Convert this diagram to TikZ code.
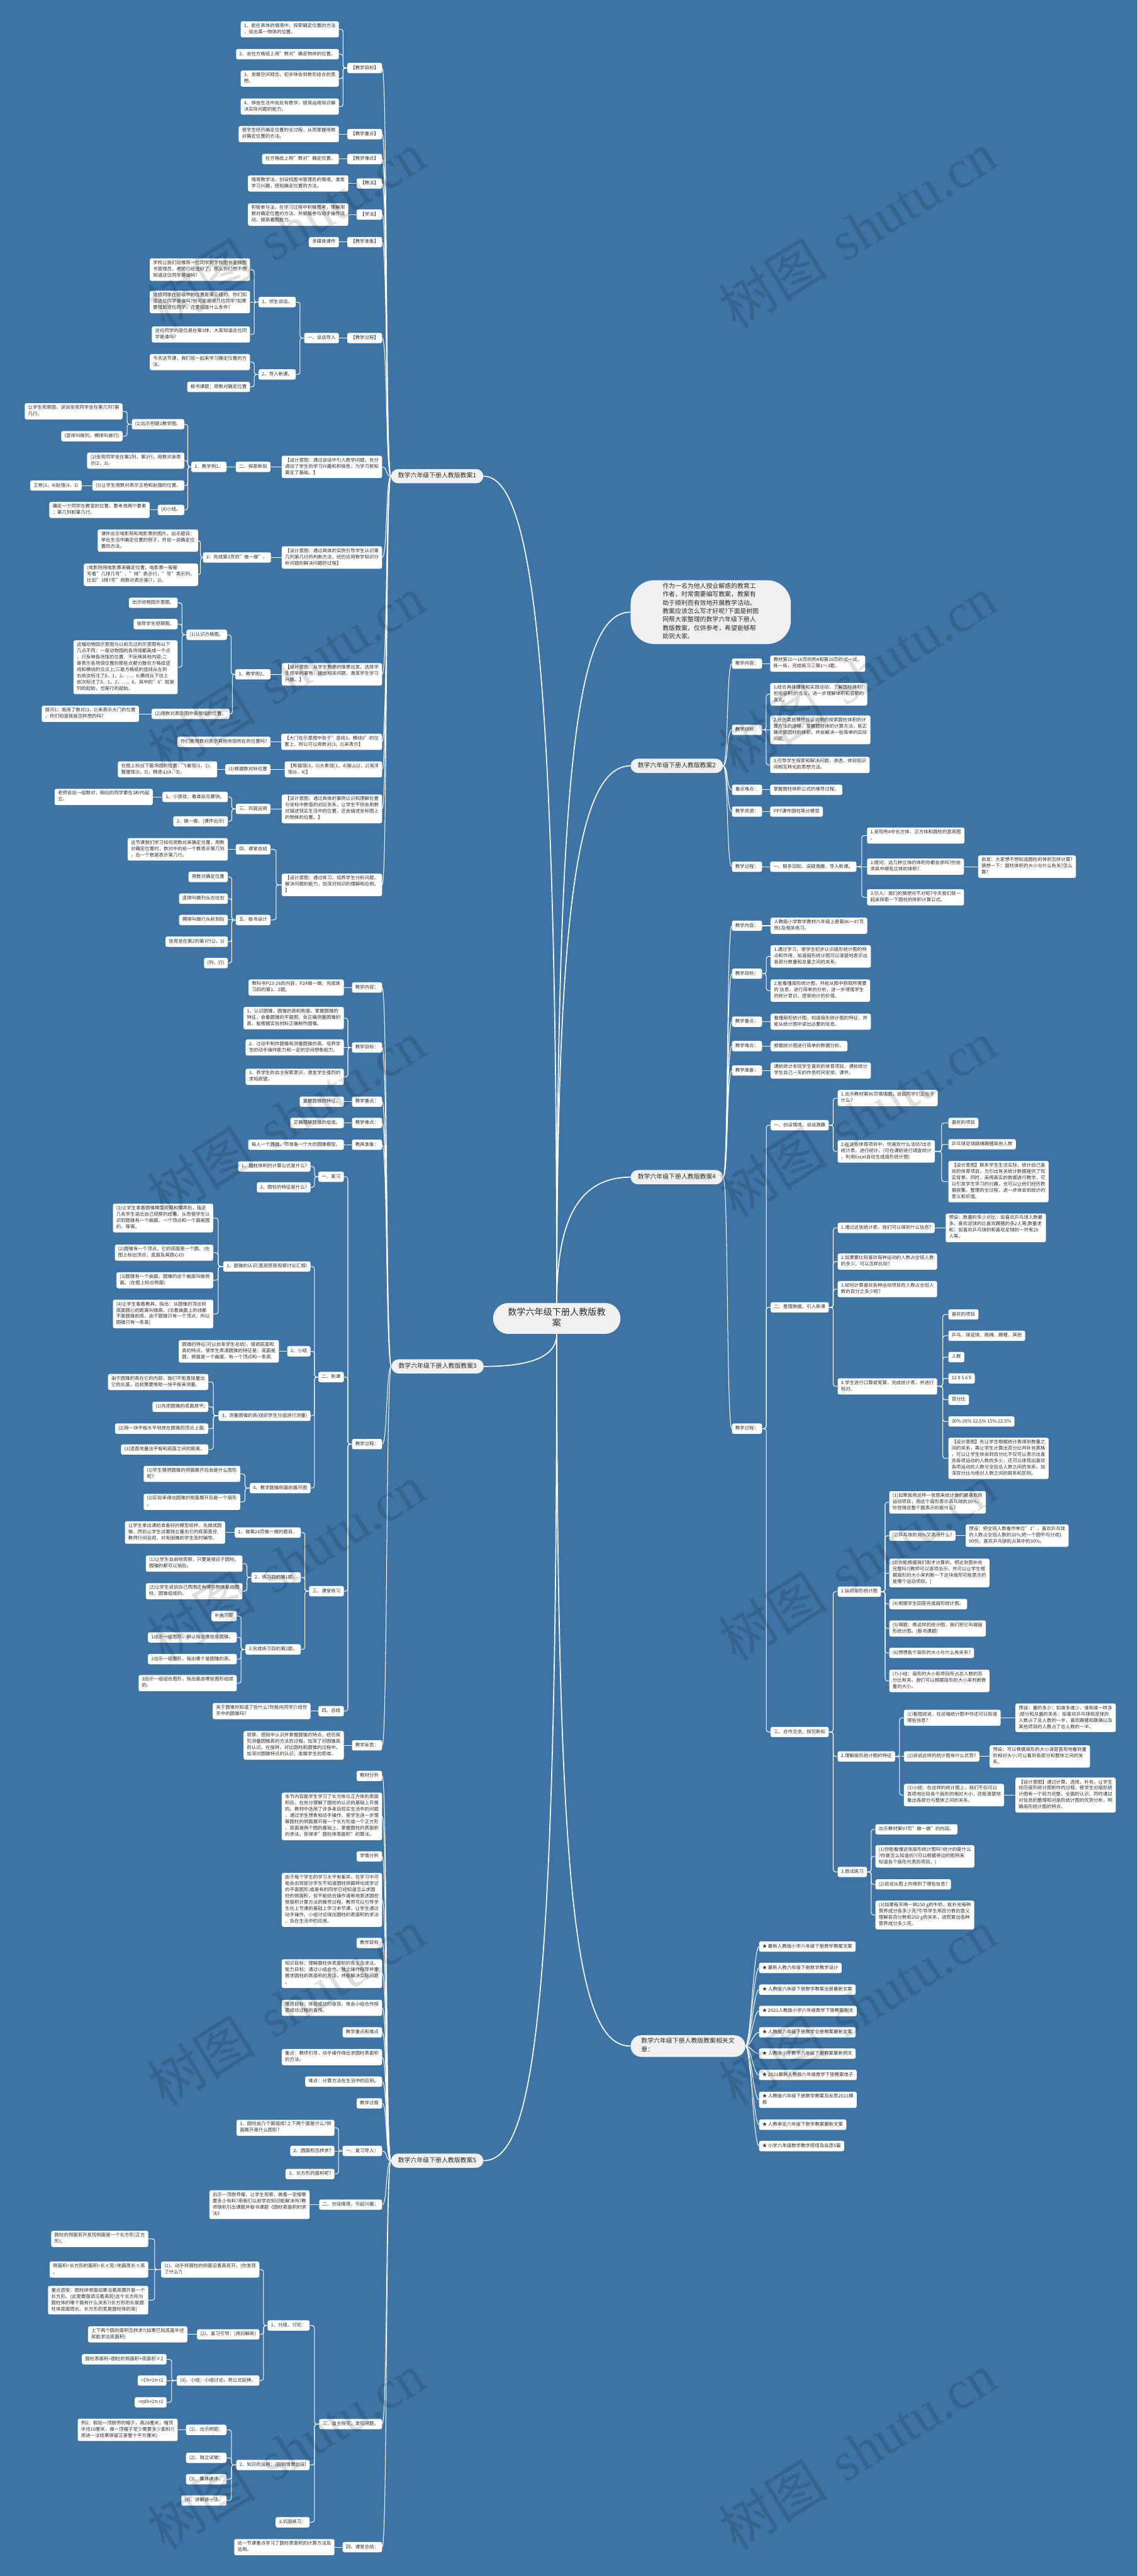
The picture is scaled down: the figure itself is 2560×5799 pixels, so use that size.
\documentclass[tikz,border=0pt]{standalone}
\usepackage{fontspec}
\setmainfont{Noto Sans CJK SC}
\newfontfamily\wmserif{Liberation Serif}
\usetikzlibrary{calc}
\definecolor{bgc}{RGB}{61,115,165}
\definecolor{txt}{RGB}{45,45,45}
\definecolor{mfill}{RGB}{240,240,240}
\newcommand\fsl{\fontsize{7.9pt}{10.6pt}\selectfont}
\newcommand\fsm{\fontsize{10.5pt}{14pt}\selectfont}
\newcommand\fsc{\fontsize{15pt}{18pt}\selectfont}
\newcommand\fsi{\fontsize{10.5pt}{14.25pt}\selectfont}
\newcommand\fsw{\fontsize{92pt}{92pt}\selectfont}
\newcommand\cvL[2]{\draw[lk] (#1.west) .. controls +(-12,0) and +(12,0) .. (#2.east);}
\newcommand\cvR[2]{\draw[lk] (#1.east) .. controls +(12,0) and +(-12,0) .. (#2.west);}
\newcommand\elL[2]{\draw[lk] (#1.west) -- ($(#1.west)!.5!(#1.west -| #2.east)$) |- (#2.east);}
\newcommand\elR[2]{\draw[lk] (#1.east) -- ($(#1.east)!.5!(#1.east -| #2.west)$) |- (#2.west);}
\newcommand\stL[2]{\draw[lk] (#1.west) -- (#1.west -| #2.east);}
\newcommand\stR[2]{\draw[lk] (#1.east) -- (#1.east -| #2.west);}
\pgfdeclarelayer{bg}
\pgfdeclarelayer{ln}
\pgfdeclarelayer{fg}
\pgfsetlayers{bg,ln,main,fg}
\tikzset{
  lf/.style={fill=white, rounded corners=3pt, text=txt, font=\fsl, align=left, inner xsep=5.6pt, inner ysep=3.4pt, execute at begin node=\strut, execute at end node=\strut},
  bxl/.style={lf, anchor=east},
  bxr/.style={lf, anchor=west},
  mn/.style={fill=mfill, rounded corners=12pt, text=txt, font=\fsm, inner xsep=12pt, inner ysep=5pt, execute at begin node=\strut, execute at end node=\strut},
  lk/.style={draw=white, line width=1.1pt, rounded corners=4pt},
  mlk/.style={draw=white, line width=1.8pt},
  wm/.style={rotate=32, text=black, opacity=0.13, font=\fsw},
}
\begin{document}
\begin{tikzpicture}[x=0.75pt,y=-0.75pt]
\useasboundingbox (0,0) rectangle (2560,5799);
\begin{pgfonlayer}{bg}
\fill[bgc] (0,0) rectangle (2560,5799);
\end{pgfonlayer}

% ---------- centre and main nodes ----------
\node[mn, font=\fsc, align=center, inner xsep=25pt, inner ysep=8pt, rounded corners=26pt] (c) at (1253,2968) {数学六年级下册人教版教\\案};
\node[mn, anchor=west, font=\fsi, align=left, inner xsep=54pt, inner ysep=4.5pt, rounded corners=40pt] (intro) at (1419,1378) {作为一名为他人授业解惑的教育工\\作者，时常需要编写教案，教案有\\助于顺利而有效地开展教学活动。\\教案应该怎么写才好呢?下面是树图\\网帮大家整理的数学六年级下册人\\教版教案，仅供参考，希望能够帮\\助到大家。};
\node[mn, anchor=east] (n1) at (1088,1072) {数学六年级下册人教版教案1};
\node[mn, anchor=west] (n2) at (1419,1724) {数学六年级下册人教版教案2};
\node[mn, anchor=east] (n3) at (1089,3076) {数学六年级下册人教版教案3};
\node[mn, anchor=west] (n4) at (1419,2650) {数学六年级下册人教版教案4};
\node[mn, anchor=east] (n5) at (1088,4864) {数学六年级下册人教版教案5};
\node[mn, anchor=west, font=\fsi, align=left, inner xsep=18pt, inner ysep=4.5pt, rounded corners=18pt] (rel) at (1419,4606) {数学六年级下册人教版教案相关文\\章：};

% ---------- branch 1 ----------
\node[bxl] (a1) at (860,153) {【教学目标】};
\node[bxl] (a2) at (860,302) {【教学重点】};
\node[bxl] (a3) at (860,358) {【教学难点】};
\node[bxl] (a4) at (860,413) {【教法】};
\node[bxl] (a5) at (860,483) {【学法】};
\node[bxl] (a6) at (860,545) {【教学准备】};
\node[bxl] (a7) at (860,761) {【教学过程】};
\node[bxl] (a8) at (860,1051) {【设计意图：通过谈话中引入数学问题，充分\\调动了学生的学习兴趣和积极性，为学习新知\\奠定了基础。】};
\node[bxl] (a9) at (860,1255) {【设计意图：通过具体的实例引导学生认识第\\几列第几行的判断方法，经历应用数学知识分\\析问题的解决问题的过程】};
\node[bxl] (a10) at (860,1518) {【设计意图：从学生熟悉的情景出发，选择学\\生感举的事物，提出相关问题，激发学生学习\\兴趣。】};
\node[bxl] (a11) at (860,1670) {【大门在示意图中处于"竖线3，横线0"的位\\置上，所以可以用数对(3，0)来表示】};
\node[bxl] (a12) at (860,1732) {【熊猫馆(3，5)大象馆(1，4)猴山(2，2)海洋\\馆(6，4)】};
\node[bxl] (a13) at (860,1821) {【设计意图：通过具体的事例认识和理解位置\\与坐标中数值的对应关系，让学生不但会用数\\对描述现实生活中的位置，还会描述坐标图上\\的物体的位置。】};
\node[bxl] (a14) at (860,1992) {【设计意图：通过练习，培养学生分析问题、\\解决问题的能力，加深对知识的理解和应用。\\】};

\node[bxl] (a1c1) at (763,66) {1、能在具体的情境中，探索确定位置的方法\\，说出某一物体的位置。};
\node[bxl] (a1c2) at (763,122) {2、会在方格纸上用"数对"确定物体的位置。};
\node[bxl] (a1c3) at (763,177) {3、发展空间观念，初步体会到数形结合的思\\想。};
\node[bxl] (a1c4) at (763,240) {4、体会生活中处处有数学，提高运用知识解\\决实际问题的能力。};
\node[bxl] (a2c) at (763,302) {使学生经历确定位置的全过程，从而掌握用数\\对确定位置的方法。};
\node[bxl] (a3c) at (763,358) {在方格纸上用"数对"确定位置。};
\node[bxl] (a4c) at (784,413) {情境教学法，创设找图书管理员的情境，激发\\学习兴趣，感知确定位置的方法。};
\node[bxl] (a5c) at (784,483) {积极参与法，在学习过程中积极思考，理解用\\数对确定位置的方法，并积极参与动手操作活\\动，提高看图能力。};
\node[bxl] (a6c) at (763,545) {多媒体课件};
\node[bxl] (a7c) at (763,761) {一、谈话导入};
\node[bxl] (a7c1) at (666,680) {1、师生谈话。};
\node[bxl] (a7c1a) at (563,607) {学校让我们班推荐一位同学到学校图书室做图\\书管理员，老师已经选好了，那么你们想不想\\知道这位同学是谁吗?};
\node[bxl] (a7c1b) at (563,680) {这位同学在班级中的位置是第三组的。你们知\\道这位同学是谁吗?他可能是哪几位同学?如果\\要找到这位同学，还要知道什么条件?};
\node[bxl] (a7c1c) at (563,753) {这位同学的座位是在第3排，大家知道这位同\\学是谁吗?};
\node[bxl] (a7c2) at (666,843) {2、导入新课。};
\node[bxl] (a7c2a) at (563,815) {今天这节课，我们就一起来学习确定位置的方\\法。};
\node[bxl] (a7c2b) at (563,871) {板书课题：用数对确定位置};

\node[bxl] (a8c) at (609,1051) {二、探索新知};
\node[bxl] (a8cc) at (510,1051) {1、教学例1。};
\node[bxl] (e1) at (415,955) {(1)出示例题1教学图。};
\node[bxl] (e1a) at (276,926) {让学生观察图，说说张亮同学坐在第几列?第\\几行。};
\node[bxl] (e1b) at (276,982) {(竖排叫做列，横排叫做行)};
\node[bxl] (e2) at (415,1037) {(2)张亮同学坐在第2列，第3行。用数对来表\\示(2，3)。};
\node[bxl] (e3) at (415,1093) {(3)让学生用数对表示王艳和赵强的位置。};
\node[bxl] (e3a) at (184,1093) {王艳(3，4)赵强(4，3)};
\node[bxl] (e4) at (415,1148) {(4)小结。};
\node[bxl] (e4a) at (337,1148) {确定一个同学在教室的位置，要考虑两个要素\\：第几列和第几行。};

\node[bxl] (a9c) at (610,1255) {2、完成第3页的"做一做"。};
\node[bxl] (a9c1) at (446,1217) {课件出示电影院和电影票的图片。出示题目：\\举出生活中确定位置的例子，并说一说确定位\\置的方法。};
\node[bxl] (a9c2) at (446,1294) {(电影院用电影票来确定位置，电影票一般都\\写着"几排几号"，"排"表示行，"号"表示列。\\比如"3排7号"用数对表示是(7，3)。};

\node[bxl] (a10c) at (609,1518) {3、教学例2。};
\node[bxl] (f1) at (511,1429) {(1)认识方格图。};
\node[bxl] (f1a) at (400,1357) {出示动物园示意图。};
\node[bxl] (f1b) at (400,1405) {指导学生观察图。};
\node[bxl] (f1c) at (400,1502) {这幅动物园示意图与以前见过的示意图有以下\\几点不同：一是动物园的各场馆都画成一个点\\，只反映各场馆的位置，不反映其他内容;二\\是表示各场馆位置的那些点都分散在方格纸竖\\线和横线的交点上;三是方格纸的竖线从左到\\右依次标注了0，1，2，…，6;横线从下往上\\依次标注了0，1，2，…，6，其中的"0"既是\\列的起始，也是行的起始。};
\node[bxl] (f2) at (517,1607) {(2)用数对表示图中各场馆的位置。};
\node[bxl] (f2a) at (313,1607) {提问1：我用了数对(3，0)来表示大门的位置\\，你们知道我是怎样想的吗?};

\node[bxl] (a11c) at (609,1670) {你们能用数对表示其他场馆所在的位置吗?};
\node[bxl] (a12c) at (609,1732) {(3)根据数对标位置};
\node[bxl] (a12cc) at (489,1732) {在图上标出下面场馆的位置：飞禽馆(1，1)、\\猩猩馆(0，3)、狮虎山(4，3)。};
\node[bxl] (a13c) at (609,1821) {三、巩固运用};
\node[bxl] (g1) at (513,1794) {1、小游戏：看谁反应最快。};
\node[bxl] (g1a) at (344,1794) {老师说出一组数对，相应的同学要在3秒内起\\立。};
\node[bxl] (g2) at (513,1849) {2、做一做。(课件出示)};
\node[bxl] (h1) at (609,1912) {四、课堂总结};
\node[bxl] (h1a) at (513,1912) {这节课我们学习如何用数对来确定位置，用数\\对确定位置时，数对中的前一个数表示第几列\\，后一个数是表示第几行。};
\node[bxl] (h2) at (609,2071) {五、板书设计};
\node[bxl] (h2a) at (513,1974) {用数对确定位置};
\node[bxl] (h2b) at (513,2023) {竖排叫做列从左往右};
\node[bxl] (h2c) at (513,2071) {横排叫做行从前到后};
\node[bxl] (h2d) at (513,2120) {张亮坐在第2列第3行(2，3)};
\node[bxl] (h2e) at (513,2168) {(列，行)};

% ---------- branch 3 ----------
\node[bxl] (b1) at (860,2223) {教学内容：};
\node[bxl] (b2) at (860,2358) {教学目标：};
\node[bxl] (b3) at (860,2480) {教学重点：};
\node[bxl] (b4) at (860,2528) {教学难点：};
\node[bxl] (b5) at (860,2577) {教具准备：};
\node[bxl] (b6) at (860,3251) {教学过程：};
\node[bxl] (b7) at (860,3929) {教学反思：};
\node[bxl] (b1c) at (774,2223) {教科书P23-26的内容，P24做一做，完成练\\习四的第1、2题。};
\node[bxl] (b2c1) at (774,2292) {1、认识圆锥，圆锥的高和侧面，掌握圆锥的\\特征，会看圆锥的平面图，会正确测量圆锥的\\高，能根据实验材料正确制作圆锥。};
\node[bxl] (b2c2) at (774,2358) {2、过动手制作圆锥和测量圆锥的高，培养学\\生的动手操作能力和一定的空间想象能力。};
\node[bxl] (b2c3) at (774,2424) {3、养学生的自主探索意识，激发学生强烈的\\求知欲望。};
\node[bxl] (b3c) at (774,2480) {掌握圆锥的特征。};
\node[bxl] (b4c) at (774,2528) {正确理解圆锥的组成。};
\node[bxl] (b5c) at (774,2577) {每人一个圆锥，师准备一个大的圆锥模型。};
\node[bxl] (k1) at (774,2649) {一、复习};
\node[bxl] (k1a) at (699,2626) {1、圆柱体积的计算公式是什么?};
\node[bxl] (k1b) at (699,2673) {2、圆柱的特征是什么?};
\node[bxl] (k2) at (774,3100) {二、新课};
\node[bxl] (m1) at (699,2851) {1、圆锥的认识(直观感受观察讨论汇报)};
\node[bxl] (m1a) at (480,2742) {(1)让学生拿着圆锥模型观察和摆弄后，指定\\几名学生说出自己观察的结果，从而使学生认\\识到圆锥有一个曲面，一个顶点和一个面是圆\\的，等等。};
\node[bxl] (m1b) at (480,2820) {(2)圆锥有一个顶点，它的底面是一个圆。(在\\图上标出顶点，底面及其圆心O)};
\node[bxl] (m1c) at (480,2882) {(3)圆锥有一个曲面，圆锥的这个曲面叫做侧\\面。(在图上标出侧面)};
\node[bxl] (m1d) at (480,2958) {(4)让学生看着教具，指出：从圆锥的顶点到\\底面圆心的距离叫做高。(沿着曲面上的线都\\不是圆锥的高，由于圆锥只有一个顶点，所以\\圆锥只有一条高)};
\node[bxl] (m2) at (699,3042) {2、小结};
\node[bxl] (m2a) at (628,3042) {圆锥的特征(可以启发学生总结)，强调底面和\\高的特点，使学生弄清圆锥的特征是：底面是\\圆，侧面是一个曲面，有一个顶点和一条高.};
\node[bxl] (m3) at (699,3187) {3、测量圆锥的高(组织学生分组进行测量)};
\node[bxl] (m3a) at (469,3111) {由于圆锥的高在它的内部，我们不能直接量出\\它的长度，这就需要借助一块平板来测量。};
\node[bxl] (m3b) at (469,3167) {(1)先把圆锥的底面放平;};
\node[bxl] (m3c) at (469,3216) {(2)用一块平板水平地放在圆锥的顶点上面;};
\node[bxl] (m3d) at (469,3263) {(3)竖直地量出平板和底面之间的距离。};
\node[bxl] (m4) at (699,3350) {4、教学圆锥侧面的展开图};
\node[bxl] (m4a) at (541,3318) {(1)学生猜想圆锥的侧面展开后会是什么图形\\呢?};
\node[bxl] (m4b) at (541,3381) {(2)实验来得出圆锥的侧面展开后是一个扇形\\。};
\node[bxl] (k3) at (774,3582) {三、课堂练习};
\node[bxl] (p1) at (677,3450) {1、做第24页做一做的题目。};
\node[bxl] (p1a) at (507,3450) {让学生拿出课前准备好的模型纸样，先做成圆\\锥，然后让学生试着独立量出它的底面直径.\\教师行间巡视，对有困难的学生及时辅导。};
\node[bxl] (p2) at (677,3551) {2、练习四的第1题。};
\node[bxl] (p2a) at (546,3520) {(1)让学生自由地观察，只要是接近于圆柱、\\圆锥的都可以指出。};
\node[bxl] (p2b) at (546,3582) {(2)让学生说说自己周围还有哪些物体是由圆\\柱、圆锥组成的。};
\node[bxl] (p3) at (677,3713) {3.完成练习四的第2题。};
\node[bxl] (p3a) at (533,3638) {补充习题};
\node[bxl] (p3b) at (533,3686) {1出示一组图形，辨认指出哪些是圆锥。};
\node[bxl] (p3c) at (533,3735) {2出示一组图形，指出哪个是圆锥的高。};
\node[bxl] (p3d) at (533,3789) {3出示一组组合图形，指出是由哪些图形组成\\的。};
\node[bxl] (k4) at (774,3852) {四、总结};
\node[bxl] (k4a) at (699,3852) {关于圆锥你知道了些什么?你能向同学介绍你\\手中的圆锥吗?};
\node[bxl] (b7c) at (774,3929) {观察、感知中认识并掌握圆锥的特点，经历探\\究测量圆锥高的方法的过程，加深了对圆锥高\\的认识。在旋转，对比圆柱和圆锥的过程中，\\加深对圆锥特点的认识，发展学生的思维。};

% ---------- branch 5 ----------
\node[bxl] (c1) at (860,3998) {教材分析};
\node[bxl] (c2) at (860,4089) {本节内容是学生学习了长方体与正方体的表面\\积后，在充分理解了圆柱的认识的基础上开展\\的。教材中选用了许多来自现实生活中的问题\\，通过学生想象和动手操作，使学生进一步理\\解圆柱的侧面展开是一个长方形或一个正方形\\，底面是两个圆的基础上，掌握圆柱的表面积\\的求法，获得求"圆柱体表面积"的算法。};
\node[bxl] (c3) at (860,4179) {学情分析};
\node[bxl] (c4) at (860,4277) {由于每个学生的学习水平有差异，在学习中可\\能会出现部分学生不知道圆柱侧面转化成学过\\的平面图形;或是有的同学已经知道怎么求圆\\柱的侧面积，但不能结合操作清晰地表述圆柱\\侧面积计算方法的推导过程。教师可以引导学\\生在上节课的基础上学习本节课，让学生通过\\动手操作，小组讨论得出圆柱的表面积的求法\\，及在生活中的应用。};
\node[bxl] (c5) at (860,4374) {教学目标};
\node[bxl] (c6) at (860,4443) {知识目标：理解圆柱体表面积的含义及求法。\\能力目标：通过小组合作、独立操作指导并掌\\握求圆柱的表面积的方法，并能解决实际问题\\。};
\node[bxl] (c7) at (860,4520) {情感目标：体验成功的收获，体会小组合作探\\索成功过程的喜悦。};
\node[bxl] (c8) at (860,4575) {教学重点和难点};
\node[bxl] (c9) at (860,4631) {重点：教师引导，动手操作得出求圆柱表面积\\的方法。};
\node[bxl] (c10) at (860,4686) {难点：计算方法在生活中的应用。};
\node[bxl] (c11) at (860,4735) {教学过程};
\node[bxl] (c12) at (860,4842) {一、复习导入：};
\node[bxl] (c13) at (860,4963) {二、创设情境，引起兴趣：};
\node[bxl] (c14) at (860,5457) {三、自主探究，发现问题。};
\node[bxl] (c15) at (860,5734) {四、课堂总结：};
\node[bxl] (c12a) at (753,4790) {1、圆柱由几个面组成?上下两个面是什么?侧\\面展开是什么图形?};
\node[bxl] (c12b) at (753,4842) {2、圆面积怎样求?};
\node[bxl] (c12c) at (753,4894) {3、长方形的面积呢?};
\node[bxl] (c13a) at (697,4963) {出示一顶厨师帽，让学生观察，做着一定帽需\\要多少布料?用我们以前学的知识能解决吗?教\\师借机引出课题并板书课题《圆柱表面积的求\\法》};
\node[bxl] (q1) at (697,5235) {1、分组，讨论：};
\node[bxl] (q1a) at (584,5109) {(1)、动手将圆柱的侧面沿着高剪开。(你发现\\了什么?)};
\node[bxl] (q1a1) at (334,5040) {圆柱的侧面剪开发现侧面是一个长方形(正方\\形)，};
\node[bxl] (q1a2) at (334,5109) {侧面积=长方形的面积=长×宽=地面周长×高\\。};
\node[bxl] (q1a3) at (334,5178) {重点感受：圆柱体侧面如果沿着高展开是一个\\长方形。(这里要强调沿着高剪)这个长方形与\\圆柱体的哪个面有什么关系?(长方形的长是圆\\柱体底面周长、长方形的宽是圆柱体的高)};
\node[bxl] (q1b) at (584,5255) {(2)、复习引导：(用旧解新)};
\node[bxl] (q1b1) at (422,5255) {上下两个圆的面积怎样求?(如果已知底面半径\\就能求出底面积)};
\node[bxl] (q1c) at (584,5359) {(3)、小结：小组讨论，将公式延伸。};
\node[bxl] (q1c1) at (375,5311) {圆柱表面积=圆柱的侧面积+底面积×2};
\node[bxl] (q1c2) at (375,5359) {=Ch+2π r2};
\node[bxl] (q1c3) at (375,5408) {=πdh+2π r2};
\node[bxl] (q2) at (697,5549) {2、知识的运用：(回到情景创设)};
\node[bxl] (q2a) at (510,5470) {(1)、出示例题：};
\node[bxl] (q2a1) at (400,5470) {例2：假如一顶厨师的帽子，高28厘米，帽顶\\半径10厘米，做一顶帽子至少需要多少面料?(\\用进一法结果保留正是整十平方厘米)};
\node[bxl] (q2b) at (510,5533) {(2)、独立试做：};
\node[bxl] (q2c) at (510,5581) {(3)、集体讲评。};
\node[bxl] (q2d) at (510,5629) {(4)、讲解进一法。};
\node[bxl] (q3) at (697,5678) {3.巩固练习：};
\node[bxl] (c15a) at (753,5734) {这一节课重点学习了圆柱表面积的计算方法及\\运用。};

% ---------- branch 2 ----------
\node[bxr] (d1) at (1647,1494) {教学内容：};
\node[bxr] (d2) at (1647,1643) {教学目标：};
\node[bxr] (d3) at (1647,1778) {重点难点：};
\node[bxr] (d4) at (1647,1827) {教学资源：};
\node[bxr] (d5) at (1647,1951) {教学过程：};
\node[bxr] (d1c) at (1733,1494) {教材第15～16页的例4和第16页的试一试、\\练一练，完成练习三第1～3题。};
\node[bxr] (d2c1) at (1733,1563) {1.结合具体情境和实践活动，了解圆柱体积(\\包括容积)的含义，进一步理解体积和容积的\\含义。};
\node[bxr] (d2c2) at (1733,1643) {2.经历类比猜想验证说明的探索圆柱体积的计\\算方法的进程，掌握圆柱体的计算方法，能正\\确计算圆柱的体积，并会解决一些简单的实际\\问题。};
\node[bxr] (d2c3) at (1733,1722) {3.引导学生探索和解决问题，渗透、体验知识\\间相互转化的思想方法。};
\node[bxr] (d3c) at (1733,1778) {掌握圆柱体积公式的推导过程。};
\node[bxr] (d4c) at (1733,1827) {PPT课件圆柱等分模型};
\node[bxr] (d5c) at (1733,1951) {一、联系旧知，设疑激趣，导入新课。};
\node[bxr] (d5c1) at (1951,1881) {1.呈现例4中长方体、正方体和圆柱的直观图\\。};
\node[bxr] (d5c2) at (1951,1951) {2.提问：这几种立体的体积你都会求吗?你会\\求其中哪些立体的体积?};
\node[bxr] (d5c2a) at (2201,1951) {启发：大家想不想知道圆柱的体积怎样计算?\\猜想一下：圆柱体积的大小与什么有关?怎么\\算?};
\node[bxr] (d5c3) at (1951,2020) {3.引入：我们的猜想对不对呢?今天我们就一\\起来探索一下圆柱的体积计算公式。};

% ---------- branch 4 ----------
\node[bxr] (r1) at (1647,2084) {教学内容：};
\node[bxr] (r2) at (1647,2192) {教学目标：};
\node[bxr] (r3) at (1647,2300) {教学重点：};
\node[bxr] (r4) at (1647,2355) {教学难点：};
\node[bxr] (r5) at (1647,2410) {教学准备：};
\node[bxr] (r6) at (1647,3216) {教学过程：};
\node[bxr] (r1c) at (1734,2084) {人教版小学数学教材六年级上册第96～97页\\例1及相关练习。};
\node[bxr] (r2a) at (1734,2153) {1.通过学习，使学生初步认识扇形统计图的特\\点和作用，知道扇形统计图可以清楚地表示出\\各部分数量和总量之间的关系。};
\node[bxr] (r2b) at (1734,2230) {2.能看懂扇形统计图，并能从图中获取所需要\\的 信息，进行简单的分析，进一步增强学生\\的统计意识，感受统计的价值。};
\node[bxr] (r3c) at (1734,2300) {看懂扇形统计图，知道扇形统计图的特征，并\\能从统计图中读出必要的信息。};
\node[bxr] (r4c) at (1734,2355) {根据统计图进行简单的数据分析。};
\node[bxr] (r5c) at (1734,2410) {课前统计本班学生喜欢的体育项目，课前统计\\学生自己一天的作息时间安排，课件。};
\node[bxr] (s1) at (1734,2533) {一、创设情境，谈话激趣};
\node[bxr] (s1a) at (1885,2472) {1.出示教材第96页情境图，说说同学们正在干\\什么?};
\node[bxr] (s1b) at (1885,2592) {2.在这些体育项目中，你喜欢什么活动?出示\\统计表，进行统计。(可在课前进行调查统计\\，利用Excel自动生成扇形统计图)};
\node[bxr] (s1b1) at (2134,2528) {喜欢的项目};
\node[bxr] (s1b2) at (2134,2576) {乒乓球足球跳绳踢毽其他人数};
\node[bxr] (s1b3) at (2134,2660) {【设计意图】联系学生生活实际，统计自己喜\\欢的体育项目，为引出有关统计数据提供了现\\实背景。同时，采用真实的数据进行教学，可\\以引发学生学习的兴趣，也可以让他们经历数\\据收集、整理的全过程，进一步体会到统计的\\意义和价值。};
\node[bxr] (s2) at (1734,2943) {二、整理数据，引入新课};
\node[bxr] (s2a) at (1885,2764) {1.通过这张统计表，我们可以得到什么信息?};
\node[bxr] (s2a1) at (2128,2764) {预设：数量的多少对比：如喜欢乒乓球人数最\\多，喜欢足球的比喜欢踢毽的多2人等;数量求\\和：如喜欢乒乓球的和喜欢足球的一共有20\\人等。};
\node[bxr] (s2b) at (1885,2840) {2.如果要比较喜欢每种运动的人数占全班人数\\的多少，可以怎样比较?};
\node[bxr] (s2c) at (1885,2902) {3.如何计算喜欢各种运动项目的人数占全班人\\数的百分之多少呢?};
\node[bxr] (s2d) at (1885,3121) {4.学生进行口算或笔算，完成统计表，并进行\\校对。};
\node[bxr] (s2d1) at (2134,2959) {喜欢的项目};
\node[bxr] (s2d2) at (2134,3007) {乒乓、球足球、跳绳、踢毽、其他};
\node[bxr] (s2d3) at (2134,3055) {人数};
\node[bxr] (s2d4) at (2134,3103) {12 8 5 6 9};
\node[bxr] (s2d5) at (2134,3151) {百分比};
\node[bxr] (s2d6) at (2134,3200) {30\% 20\% 12.5\% 15\% 22.5\%};
\node[bxr] (s2d7) at (2134,3283) {【设计意图】先让学生根据统计表得到数量之\\间的关系，再让学生计算出百分比并补充表格\\，可以让学生体会到百分比不仅可以表示出喜\\欢各项运动的人数的多少，还可以体现出喜欢\\各项运动的人数与全班总人数之间的关系，加\\深百分比与绝对人数之间的联系和区别。};
\node[bxr] (s3) at (1734,3899) {三、合作交流，探究新知};
\node[bxr] (t1) at (1885,3583) {1.认识扇形统计图};
\node[bxr] (t1a) at (2001,3382) {(1)如果我用这样一张图来统计我们最喜欢的\\运动项目，用这个扇形表示乒乓球的30\%，\\你觉得这整个圆表示的是什么?};
\node[bxr] (t1b) at (2001,3457) {(2)乒乓球的30\%又表示什么?};
\node[bxr] (t1b1) at (2173,3457) {预设：把全班人数看作单位"1"，喜欢乒乓球\\的人数占全班人数的30\%;把一个圆平均分成1\\00份，喜欢乒乓球的占其中的30\%。};
\node[bxr] (t1c) at (2001,3541) {(3)你能根据我们刚才计算的，把这张图补充\\完整吗?(教师可以逐项出示，并可以让学生根\\据扇形的大小来判断一下这块扇形可能表示的\\是哪个运动项目。)};
\node[bxr] (t1d) at (2001,3611) {(4)根据学生回答完成扇形统计图。};
\node[bxr] (t1e) at (2001,3666) {(5)揭题：像这样的统计图，我们把它叫做扇\\形统计图。(板书课题)};
\node[bxr] (t1f) at (2001,3721) {(6)想想各个扇形的大小与什么有关系?};
\node[bxr] (t1g) at (2001,3784) {(7)小结：扇形的大小和项目所占总人数的百\\分比有关。我们可以根据扇形的大小来判断数\\量的大小。};
\node[bxr] (t2) at (1885,3954) {2.理解扇形统计图的特征};
\node[bxr] (t2a) at (2034,3867) {(1)看图说说，在这幅统计图中你还可以知道\\哪些信息?};
\node[bxr] (t2a1) at (2285,3867) {预设：量的多少：如谁多谁少，谁和谁一样多\\;部分和总量的关系：如喜欢乒乓球和足球的\\人数占了总人数的一半，喜欢踢毽和跳绳以及\\其他项目的人数占了总人数的一半。};
\node[bxr] (t2b) at (2034,3954) {(2)说说这样的统计图有什么优势?};
\node[bxr] (t2b1) at (2227,3954) {预设：可以根据扇形的大小清楚直观地看到量\\的相对大小;可以看到各部分和整体之间的关\\系。};
\node[bxr] (t2c) at (2034,4041) {(3)小结：在这样的统计图上，我们不仅可以\\直观地比较各个扇形的相对大小，还能清楚地\\看出各部分与整体之间的关系。};
\node[bxr] (t2c1) at (2285,4041) {【设计意图】通过计算、选择、补充，让学生\\经历扇形统计图制作的过程，使学生对扇形统\\计图有一个较为完整、全面的认识，同时通过\\对信息的整理和对扇形统计图的优势分析，明\\确扇形统计图的特点。};
\node[bxr] (t3) at (1885,4214) {3.尝试练习};
\node[bxr] (t3a) at (1970,4118) {出示教材第97页"做一做"的内容。};
\node[bxr] (t3b) at (1970,4179) {(1)你能看懂这张扇形统计图吗?统计的是什么\\?你是怎么知道的?(可以根据旁边的图例来\\知道各个扇形代表的项目。)};
\node[bxr] (t3c) at (1970,4242) {(2)说说从图上你得到了哪些信息?};
\node[bxr] (t3d) at (1970,4311) {(3)如果每天喝一袋250 g的牛奶，能补充每种\\营养成分各多少克?引导学生用百分数的意义\\理解各百分数和250 g的关系，进而算出各种\\营养成分多少克。};

% ---------- related articles ----------
\node[bxr] (u1) at (1708,4382) {★ 最新人教版小学六年级下册数学教案文案};
\node[bxr] (u2) at (1708,4430) {★ 最新人教六年级下册数学教学设计};
\node[bxr] (u3) at (1708,4479) {★ 人教版六年级下册数学教案全册最新文案};
\node[bxr] (u4) at (1708,4527) {★ 2021人教版小学六年级数学下册教案例文};
\node[bxr] (u5) at (1708,4575) {★ 人教版六年级下册数学全册教案最新文案};
\node[bxr] (u6) at (1708,4623) {★ 人教版小学数学六年级下册教案最新例文};
\node[bxr] (u7) at (1708,4671) {★ 2021最新人教版六年级数学下册教案电子};
\node[bxr] (u8) at (1708,4727) {★ 人教版六年级下册数学教案及反思2021模\\板};
\node[bxr] (u9) at (1708,4783) {★ 人教审定六年级下数学教案最新文案};
\node[bxr] (u10) at (1708,4831) {★ 小学六年级数学教学感悟及反思5篇};

% ---------- connectors ----------
\begin{pgfonlayer}{ln}
\draw[mlk] (c.north) .. controls (1253,1500) and (1200,1072) .. (n1.east);
\draw[mlk] (c.north) .. controls (1253,1700) and (1300,1378) .. (intro.west);
\draw[mlk] (c.north) .. controls (1253,2050) and (1300,1724) .. (n2.west);
\draw[mlk] (c.north) .. controls (1253,2750) and (1300,2650) .. (n4.west);
\draw[mlk] (c.south) .. controls (1253,3060) and (1180,3076) .. (n3.east);
\draw[mlk] (c.south) .. controls (1253,4300) and (1300,4606) .. (rel.west);
\draw[mlk] (c.south) .. controls (1253,4550) and (1200,4864) .. (n5.east);

\foreach \i in {1,...,14} {\cvL{n1}{a\i}}
\foreach \i in {1,...,7} {\cvL{n3}{b\i}}
\foreach \i in {1,...,15} {\cvL{n5}{c\i}}
\foreach \i in {1,...,5} {\cvR{n2}{d\i}}
\foreach \i in {1,...,6} {\cvR{n4}{r\i}}
\foreach \i in {1,...,10} {\cvR{rel}{u\i}}

\foreach \j in {1,2,3,4} {\elL{a1}{a1c\j}}
\stL{a2}{a2c} \stL{a3}{a3c} \stL{a4}{a4c} \stL{a5}{a5c} \stL{a6}{a6c} \stL{a7}{a7c}
\elL{a7c}{a7c1} \elL{a7c}{a7c2}
\elL{a7c1}{a7c1a} \stL{a7c1}{a7c1b} \elL{a7c1}{a7c1c}
\elL{a7c2}{a7c2a} \elL{a7c2}{a7c2b}
\stL{a8}{a8c} \stL{a8c}{a8cc}
\elL{a8cc}{e1} \elL{a8cc}{e2} \elL{a8cc}{e3} \elL{a8cc}{e4}
\elL{e1}{e1a} \elL{e1}{e1b} \stL{e3}{e3a} \stL{e4}{e4a}
\stL{a9}{a9c} \elL{a9c}{a9c1} \elL{a9c}{a9c2}
\stL{a10}{a10c} \elL{a10c}{f1} \elL{a10c}{f2}
\elL{f1}{f1a} \elL{f1}{f1b} \elL{f1}{f1c} \stL{f2}{f2a}
\stL{a11}{a11c} \stL{a12}{a12c} \stL{a12c}{a12cc}
\stL{a13}{a13c} \elL{a13c}{g1} \elL{a13c}{g2} \stL{g1}{g1a}
\elL{a14}{h1} \elL{a14}{h2} \stL{h1}{h1a}
\elL{h2}{h2a} \elL{h2}{h2b} \stL{h2}{h2c} \elL{h2}{h2d} \elL{h2}{h2e}

\stL{b1}{b1c}
\elL{b2}{b2c1} \stL{b2}{b2c2} \elL{b2}{b2c3}
\stL{b3}{b3c} \stL{b4}{b4c} \stL{b5}{b5c}
\elL{b6}{k1} \elL{b6}{k2} \elL{b6}{k3} \elL{b6}{k4}
\elL{k1}{k1a} \elL{k1}{k1b}
\elL{k2}{m1} \elL{k2}{m2} \elL{k2}{m3} \elL{k2}{m4}
\elL{m1}{m1a} \elL{m1}{m1b} \elL{m1}{m1c} \elL{m1}{m1d}
\stL{m2}{m2a}
\elL{m3}{m3a} \elL{m3}{m3b} \elL{m3}{m3c} \elL{m3}{m3d}
\elL{m4}{m4a} \elL{m4}{m4b}
\elL{k3}{p1} \elL{k3}{p2} \elL{k3}{p3}
\stL{p1}{p1a}
\elL{p2}{p2a} \elL{p2}{p2b}
\elL{p3}{p3a} \elL{p3}{p3b} \elL{p3}{p3c} \elL{p3}{p3d}
\stL{k4}{k4a}
\stL{b7}{b7c}

\elL{c12}{c12a} \stL{c12}{c12b} \elL{c12}{c12c}
\stL{c13}{c13a}
\elL{c14}{q1} \elL{c14}{q2} \elL{c14}{q3}
\elL{q1}{q1a} \elL{q1}{q1b} \elL{q1}{q1c}
\elL{q1a}{q1a1} \stL{q1a}{q1a2} \elL{q1a}{q1a3}
\stL{q1b}{q1b1}
\elL{q1c}{q1c1} \stL{q1c}{q1c2} \elL{q1c}{q1c3}
\elL{q2}{q2a} \elL{q2}{q2b} \elL{q2}{q2c} \elL{q2}{q2d}
\stL{q2a}{q2a1}
\stL{c15}{c15a}

\stR{d1}{d1c}
\elR{d2}{d2c1} \stR{d2}{d2c2} \elR{d2}{d2c3}
\stR{d3}{d3c} \stR{d4}{d4c} \stR{d5}{d5c}
\elR{d5c}{d5c1} \stR{d5c}{d5c2} \elR{d5c}{d5c3}
\stR{d5c2}{d5c2a}

\stR{r1}{r1c}
\elR{r2}{r2a} \elR{r2}{r2b}
\stR{r3}{r3c} \stR{r4}{r4c} \stR{r5}{r5c}
\elR{r6}{s1} \elR{r6}{s2} \elR{r6}{s3}
\elR{s1}{s1a} \elR{s1}{s1b}
\elR{s1b}{s1b1} \elR{s1b}{s1b2} \elR{s1b}{s1b3}
\elR{s2}{s2a} \elR{s2}{s2b} \elR{s2}{s2c} \elR{s2}{s2d}
\stR{s2a}{s2a1}
\foreach \j in {1,...,7} {\elR{s2d}{s2d\j}}
\elR{s3}{t1} \elR{s3}{t2} \elR{s3}{t3}
\foreach \j in {a,b,c,d,e,f,g} {\elR{t1}{t1\j}}
\stR{t1b}{t1b1}
\elR{t2}{t2a} \stR{t2}{t2b} \elR{t2}{t2c}
\stR{t2a}{t2a1} \stR{t2b}{t2b1} \stR{t2c}{t2c1}
\foreach \j in {a,b,c,d} {\elR{t3}{t3\j}}
\end{pgfonlayer}

% ---------- watermark ----------
\begin{pgfonlayer}{fg}
\foreach \wx in {644,1930} {
  \foreach \wy in {518,1518,2518,3518,4518,5518} {
    \node[wm] (wm\wx\wy) at (\wx,\wy) {树图\hspace{0.35em}{\wmserif shutu.cn}};
  }
}
\end{pgfonlayer}
\end{tikzpicture}
\end{document}
